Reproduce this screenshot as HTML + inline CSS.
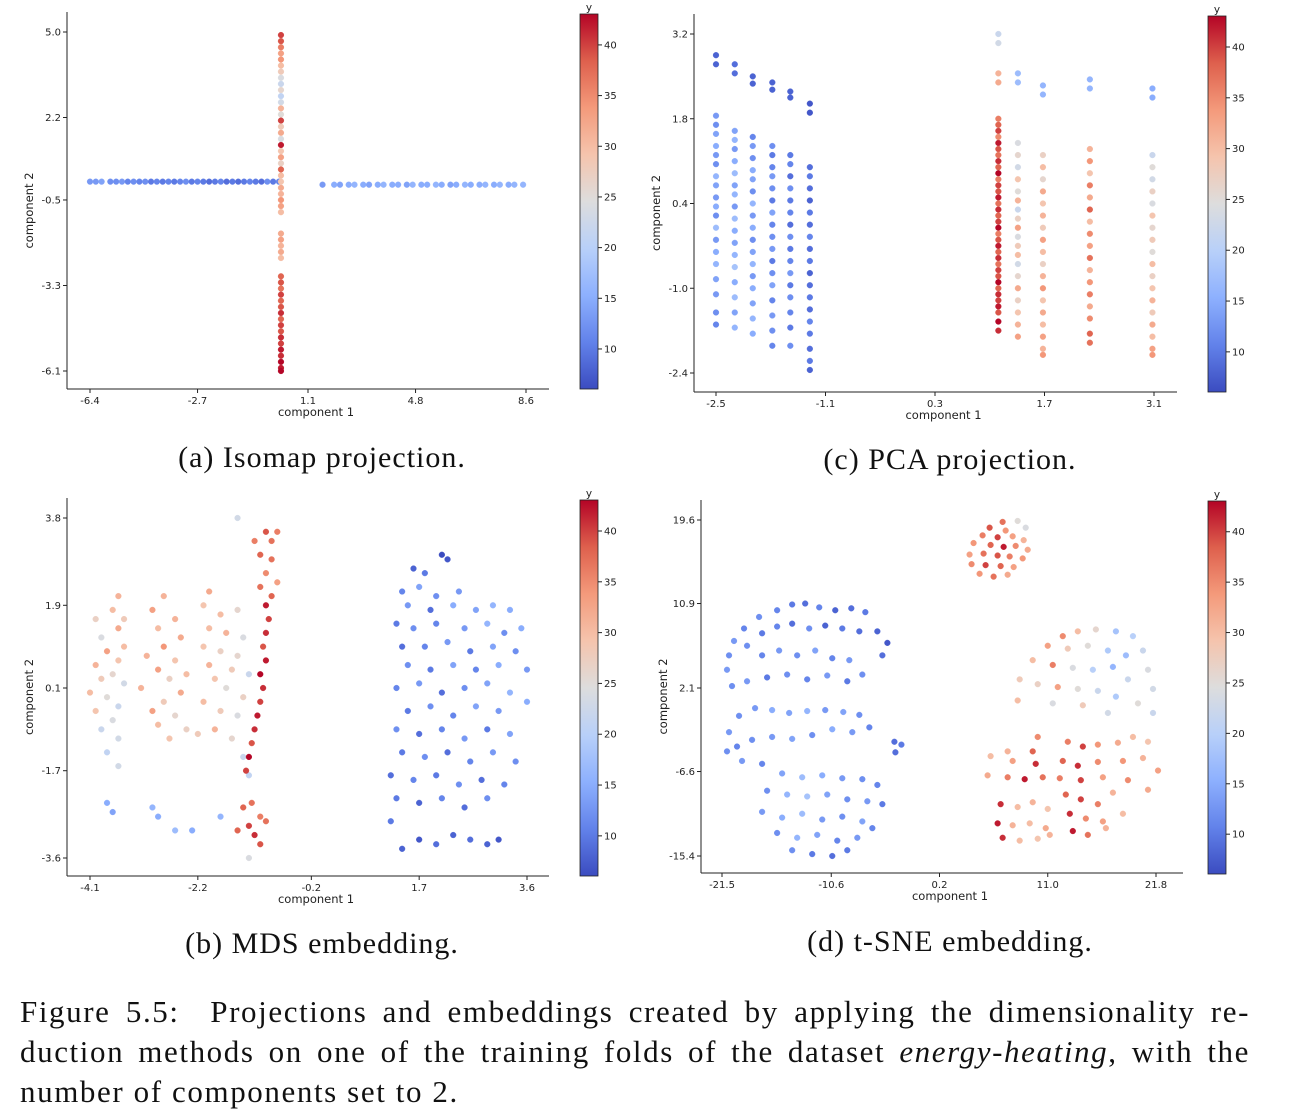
<!DOCTYPE html>
<html><head><meta charset="utf-8">
<style>
body{margin:0;background:#fff;width:1290px;height:1120px;overflow:hidden;position:relative;font-family:"DejaVu Sans","Liberation Sans",sans-serif;}
svg{position:absolute;left:0;top:0}
.cap{position:absolute;font-family:"Liberation Serif",serif;font-size:30px;letter-spacing:1px;color:#111;white-space:nowrap;transform:translate(-50%,-50%)}
.fl{position:absolute;left:20px;width:1230px;font-family:"Liberation Serif",serif;font-size:31px;letter-spacing:1.6px;line-height:40px;color:#111;white-space:nowrap}
.just{text-align:justify;text-align-last:justify}
</style></head><body>
<svg id="fig" width="1290" height="1120"></svg>
<div class="cap" style="left:322px;top:458px">(a) Isomap projection.</div>
<div class="cap" style="left:950px;top:460px">(c) PCA projection.</div>
<div class="cap" style="left:322px;top:944px">(b) MDS embedding.</div>
<div class="cap" style="left:950px;top:942px">(d) t-SNE embedding.</div>
<div>
<div class="fl just" style="top:992px">Figure 5.5: &nbsp;Projections and embeddings created by applying the dimensionality re-</div>
<div class="fl just" style="top:1032px">duction methods on one of the training folds of the dataset <i>energy-heating</i>, with the</div>
<div class="fl" style="top:1072px">number of components set to 2.</div>
</div>
<script>
// ---------- Panel (a) Isomap data ----------
const aLeftX=[-6.4,-6.2,-6.0,-5.7,-5.5,-5.3,-5.1,-4.9,-4.7,-4.5,-4.3,-4.1,-3.9,-3.7,-3.5,-3.3,-3.1,-2.9,-2.7,-2.5,-2.3,-2.1,-1.9,-1.7,-1.5,-1.3,-1.1,-0.9,-0.7,-0.5,-0.3,-0.1,0.1];
const aLeftV=[13,13,14,12,12,13,11,12,11,12,10,11,10,11,10,11,12,10,11,10,9,10,11,9,10,9,10,11,10,9,12,10,11];
const aLeftY=0.1;
const aRightX=[1.6,2.0,2.2,2.5,2.7,3.0,3.2,3.5,3.7,4.0,4.2,4.5,4.7,5.0,5.2,5.5,5.7,6.0,6.2,6.5,6.7,7.0,7.2,7.5,7.7,8.0,8.2,8.5];
const aRightV=[13,15,14,15,16,15,14,15,16,15,15,14,16,15,15,16,15,14,15,16,15,15,16,15,16,15,16,16];
const aRightY=0.0;
const aVertY=[4.9,4.7,4.5,4.3,4.1,3.9,3.7,3.5,3.3,3.1,2.9,2.7,2.5,2.3,2.1,1.9,1.7,1.5,1.3,1.1,0.9,0.7,0.5,0.3,0.1,-0.1,-0.3,-0.5,-0.7,-0.9,-1.6,-1.8,-2.0,-2.2,-2.4,-3.0,-3.2,-3.4,-3.6,-3.8,-4.0,-4.2,-4.4,-4.6,-4.8,-5.0,-5.2,-5.4,-5.6,-5.8,-6.0,-6.1];
const aVertV=[40,39,36,33,34,30,28,24,22,26,21,23,31,25,40,28,32,24,42,29,33,27,38,30,29,32,31,34,33,30,32,33,31,32,30,38,39,37,40,38,39,41,38,40,39,41,40,42,41,43,42,43];
const aVertX=0.17;
const aXTicks=[-6.4,-2.7,1.1,4.8,8.6], aYTicks=[5.0,2.2,-0.5,-3.3,-6.1];

// ---------- Panel (c) PCA data ----------
const pcaColX=[-2.5,-2.26,-2.03,-1.78,-1.55,-1.30,1.11,1.36,1.68,2.28,3.08];
const pcaColY=[
[2.85,2.7,1.85,1.7,1.55,1.35,1.2,1.05,0.85,0.7,0.5,0.35,0.2,0.0,-0.2,-0.4,-0.6,-0.85,-1.1,-1.4,-1.6],
[2.7,2.55,1.6,1.45,1.3,1.1,0.9,0.7,0.55,0.35,0.15,-0.05,-0.25,-0.45,-0.65,-0.9,-1.15,-1.4,-1.65],
[2.5,2.38,1.5,1.35,1.15,0.95,0.8,0.6,0.4,0.2,0.0,-0.2,-0.4,-0.6,-0.8,-1.0,-1.25,-1.5,-1.75],
[2.4,2.28,1.35,1.2,1.0,0.85,0.65,0.45,0.25,0.05,-0.15,-0.35,-0.55,-0.75,-0.95,-1.2,-1.45,-1.7,-1.95],
[2.25,2.15,1.2,1.05,0.85,0.65,0.45,0.25,0.05,-0.15,-0.35,-0.55,-0.75,-0.95,-1.15,-1.4,-1.65,-1.95],
[2.05,1.9,1.0,0.85,0.65,0.45,0.25,0.05,-0.15,-0.35,-0.55,-0.75,-0.95,-1.15,-1.35,-1.55,-1.75,-2.0,-2.2,-2.35],
[3.2,3.05,2.55,2.4,1.8,1.7,1.6,1.5,1.4,1.3,1.2,1.1,1.0,0.9,0.8,0.7,0.6,0.5,0.4,0.3,0.2,0.1,0.0,-0.1,-0.2,-0.3,-0.4,-0.5,-0.6,-0.7,-0.8,-0.9,-1.0,-1.1,-1.2,-1.3,-1.4,-1.55,-1.7],
[2.55,2.4,1.4,1.2,1.0,0.8,0.6,0.45,0.3,0.15,0.0,-0.15,-0.3,-0.45,-0.6,-0.8,-1.0,-1.2,-1.4,-1.6,-1.8],
[2.35,2.2,1.2,1.0,0.8,0.6,0.4,0.2,0.0,-0.2,-0.4,-0.6,-0.8,-1.0,-1.2,-1.4,-1.6,-1.8,-2.0,-2.1],
[2.45,2.3,1.3,1.1,0.9,0.7,0.5,0.3,0.1,-0.1,-0.3,-0.5,-0.7,-0.9,-1.1,-1.3,-1.5,-1.75,-1.9],
[2.3,2.15,1.2,1.0,0.8,0.6,0.4,0.2,0.0,-0.2,-0.4,-0.6,-0.8,-1.0,-1.2,-1.4,-1.6,-1.8,-2.0,-2.1]];
const pcaColV=[
[8,8,13,12,14,15,13,12,16,14,13,15,12,17,13,15,16,14,13,12,11],
[9,9,14,16,13,15,17,14,16,13,17,15,14,16,18,15,17,14,16],
[8,8,11,13,12,15,14,12,16,13,15,12,14,16,13,15,14,16,15],
[8,8,12,10,11,13,12,10,14,11,12,13,10,12,14,11,13,12,11],
[8,8,10,11,9,12,10,11,9,12,10,11,13,10,12,11,10,12],
[7,7,9,10,9,8,10,9,11,9,10,8,9,10,9,11,10,9,10,8],
[22,23,31,32,36,38,40,35,42,39,37,41,38,43,36,40,39,42,37,41,38,40,43,36,39,42,38,41,37,40,39,43,38,41,40,42,39,43,41],
[17,17,24,26,23,29,25,31,22,27,33,24,28,30,23,26,32,27,29,31,33],
[16,16,27,30,26,32,29,31,28,33,30,27,31,34,29,32,30,33,31,34],
[16,16,31,34,29,36,32,38,30,35,33,37,31,34,36,32,35,38,37],
[15,15,22,25,23,27,24,29,26,28,25,30,27,29,31,28,32,30,33,34]];
const cXTicks=[-2.5,-1.1,0.3,1.7,3.1], cYTicks=[3.2,1.8,0.4,-1.0,-2.4];

// ---------- Panel (b) MDS data [x,y,value] ----------
const mdsPts=[[-3.6,2.1,31],[-3.7,1.8,30],[-3.5,1.6,28],[-4.0,1.6,27],[-3.6,1.4,32],[-3.9,1.2,24],[-3.5,1.0,30],[-3.8,0.9,33],[-3.6,0.7,29],[-4.0,0.6,31],[-3.7,0.4,26],[-3.9,0.3,28],[-3.5,0.2,23],[-4.1,0.0,30],[-3.8,-0.1,25],[-3.6,-0.3,22],[-4.0,-0.4,29],[-3.7,-0.6,24],[-3.9,-0.8,22],[-3.6,-1.0,23],[-3.8,-1.3,21],[-3.6,-1.6,23],[-3.8,-2.4,15],[-3.7,-2.6,14],
[-2.8,2.1,31],[-3.0,1.8,33],[-2.6,1.6,31],[-2.9,1.4,30],[-2.5,1.2,32],[-2.8,1.0,34],[-3.1,0.8,31],[-2.6,0.7,29],[-2.9,0.5,33],[-2.4,0.4,30],[-2.7,0.3,27],[-3.2,0.1,31],[-2.5,0.0,32],[-2.8,-0.2,28],[-3.0,-0.4,33],[-2.6,-0.5,26],[-2.9,-0.7,30],[-2.4,-0.8,27],[-2.7,-1.0,29],[-2.2,-0.9,28],[-3.0,-2.5,16],[-2.9,-2.7,15],[-2.6,-3.0,17],
[-2.0,2.2,32],[-2.1,1.9,29],[-1.8,1.7,30],[-1.5,1.8,26],[-2.0,1.4,30],[-1.7,1.3,31],[-1.4,1.2,24],[-2.1,1.0,29],[-1.8,0.9,27],[-1.5,0.8,26],[-2.0,0.6,31],[-1.6,0.5,28],[-1.3,0.4,22],[-1.9,0.3,29],[-1.7,0.1,25],[-1.4,-0.1,27],[-2.1,-0.2,30],[-1.8,-0.4,28],[-1.5,-0.5,24],[-1.9,-0.8,31],[-1.6,-1.0,26],[-1.4,-1.4,22],[-1.3,-1.8,21],[-2.3,-3.0,15],[-1.8,-2.7,16],[-1.5,3.8,23],
[-1.2,3.3,36],[-1.0,3.5,39],[-0.9,3.3,37],[-0.8,3.5,36],[-1.1,3.0,38],[-0.9,2.9,37],[-1.0,2.6,35],[-0.8,2.4,33],[-1.1,2.3,37],[-0.9,2.1,38],[-1.0,1.9,42],[-0.95,1.6,40],[-1.0,1.3,41],[-1.05,1.0,39],[-1.0,0.7,42],[-1.1,0.4,43],[-1.05,0.1,41],[-1.1,-0.2,40],[-1.15,-0.5,42],[-1.2,-0.8,41],[-1.25,-1.1,39],[-1.3,-1.4,43],[-1.35,-1.7,40],[-1.25,-2.4,37],[-1.4,-2.5,38],[-1.1,-2.7,36],[-1.3,-2.9,40],[-1.0,-2.8,37],[-1.5,-3.0,38],[-1.2,-3.1,41],[-1.1,-3.3,39],[-1.3,-3.6,24],
[1.6,2.7,8],[1.8,2.6,10],[2.1,3.0,6],[2.2,2.9,7],[1.4,2.2,11],[1.7,2.3,14],[2.0,2.1,12],[2.4,2.2,13],[1.5,1.9,13],[1.9,1.8,9],[2.3,1.9,15],[2.7,1.8,14],[3.0,1.9,16],[3.3,1.8,15],[1.3,1.5,10],[1.6,1.4,12],[2.0,1.5,11],[2.5,1.4,13],[2.9,1.5,16],[3.2,1.3,12],[3.5,1.4,15],[1.4,1.0,9],[1.8,1.0,11],[2.2,1.1,13],[2.6,0.9,10],[3.0,1.0,14],[3.4,0.9,12],[1.5,0.6,12],[1.9,0.5,10],[2.3,0.6,14],[2.7,0.5,11],[3.1,0.6,15],[3.6,0.5,13],[1.3,0.1,11],[1.7,0.2,13],[2.1,0.0,9],[2.5,0.1,12],[2.9,0.2,14],[3.3,0.0,16],[1.5,-0.4,10],[1.9,-0.3,12],[2.3,-0.5,11],[2.7,-0.3,14],[3.1,-0.4,13],[3.6,-0.2,15],[1.3,-0.8,12],[1.7,-0.9,9],[2.1,-0.8,11],[2.5,-1.0,13],[2.9,-0.8,10],[3.3,-0.9,14],[1.4,-1.3,10],[1.8,-1.4,12],[2.2,-1.3,9],[2.6,-1.5,11],[3.0,-1.3,13],[3.4,-1.5,12],[1.2,-1.8,9],[1.6,-1.9,11],[2.0,-1.8,10],[2.4,-2.0,12],[2.8,-1.9,9],[3.2,-2.0,11],[1.3,-2.3,10],[1.7,-2.4,8],[2.1,-2.3,11],[2.5,-2.5,9],[2.9,-2.3,12],[1.2,-2.8,10],[1.4,-3.4,8],[1.7,-3.2,7],[2.0,-3.3,9],[2.3,-3.1,8],[2.6,-3.2,9],[2.9,-3.3,8],[3.1,-3.2,7]];
const bXTicks=[-4.1,-2.2,-0.2,1.7,3.6], bYTicks=[3.8,1.9,0.1,-1.7,-3.6];

// ---------- Panel (d) t-SNE data [x,y,value] ----------
const tsnePts=[[6.5,19.4,37],[8.0,19.5,25],[8.8,18.8,24],[5.2,18.8,39],[6.8,18.5,34],[4.5,18.0,36],[6.0,17.8,40],[7.5,17.9,33],[8.6,17.5,31],[3.6,17.2,34],[5.3,17.0,38],[6.6,16.8,42],[7.8,16.9,35],[9.0,16.5,32],[3.2,16.0,33],[4.6,16.1,37],[6.0,15.9,39],[7.2,15.8,36],[8.5,15.6,34],[3.4,15.0,35],[4.8,14.9,40],[6.3,14.8,38],[7.6,14.7,33],[4.2,14.0,34],[5.6,13.7,37],[7.0,13.9,32],
[-14.5,10.8,10],[-13.2,10.9,9],[-11.8,10.5,11],[-10.2,10.2,8],[-8.6,10.4,9],[-7.2,10.0,10],[-16.0,10.2,11],[-17.8,9.5,12],[-19.3,8.3,11],[-20.3,7.0,13],[-20.8,5.5,12],[-21.0,4.0,13],[-19.0,6.5,12],[-17.5,7.8,10],[-16.0,8.5,11],[-14.5,8.8,9],[-12.8,8.3,12],[-11.2,8.6,8],[-9.5,8.3,10],[-7.8,8.0,9],[-6.0,8.0,8],[-5.0,6.8,7],[-5.5,5.5,9],[-17.5,5.5,11],[-15.8,6.0,13],[-14.0,5.5,12],[-12.2,6.0,14],[-10.5,5.2,11],[-8.8,5.0,13],[-7.5,3.5,12],[-9.0,2.8,10],[-11.0,3.4,13],[-13.0,3.0,11],[-15.0,3.5,12],[-17.0,3.2,10],[-19.0,2.8,13],[-20.5,2.3,12],
[-20.8,-2.5,13],[-19.8,-0.8,12],[-18.2,0.0,13],[-16.5,-0.2,15],[-14.8,-0.5,14],[-13.0,-0.3,16],[-11.2,-0.2,13],[-9.4,-0.4,14],[-7.8,-0.7,12],[-6.8,-2.0,11],[-8.5,-2.5,13],[-10.5,-2.2,15],[-12.5,-2.8,12],[-14.5,-3.2,14],[-16.5,-3.0,13],[-18.5,-3.3,12],[-20.0,-4.0,11],[-21.0,-4.5,12],[-19.5,-5.5,13],[-17.5,-5.8,11],[-4.3,-3.5,9],[-3.6,-3.8,10],[-4.2,-4.6,9],
[-15.5,-6.8,14],[-13.5,-7.2,17],[-11.5,-7.0,15],[-9.5,-7.3,13],[-7.5,-7.4,12],[-6.0,-8.0,11],[-17.0,-8.6,12],[-15.0,-9.0,16],[-13.0,-9.2,18],[-11.0,-9.0,14],[-9.0,-9.5,12],[-7.0,-9.7,13],[-5.5,-10.0,10],[-17.5,-10.8,13],[-15.5,-11.4,15],[-13.5,-11.0,17],[-11.5,-11.6,13],[-9.5,-11.3,12],[-7.5,-11.8,14],[-6.5,-12.5,11],[-16.0,-13.0,12],[-14.0,-13.5,16],[-12.0,-13.2,14],[-10.0,-13.8,11],[-8.0,-13.5,13],[-12.5,-15.2,10],[-10.5,-15.4,9],[-9.0,-14.8,10],[-14.5,-14.8,12],
[12.5,7.5,35],[14.0,8.0,30],[15.8,8.2,26],[17.8,8.0,18],[19.5,7.5,20],[20.5,6.0,22],[11.0,6.5,33],[13.0,6.2,28],[15.0,6.5,25],[17.0,6.0,19],[18.8,5.5,17],[21.0,4.0,24],[9.5,5.0,30],[11.5,4.5,36],[13.5,4.2,24],[15.5,4.0,20],[17.5,4.3,16],[19.0,3.0,22],[21.5,2.0,23],[8.2,3.0,28],[10.0,2.5,27],[12.0,2.2,33],[14.0,2.0,25],[16.0,1.8,22],[17.8,1.2,19],[20.0,0.5,25],[21.5,-0.5,22],[8.0,0.8,30],[11.5,0.5,24],[14.5,0.3,28],[17.0,-0.5,23],
[10.0,-3.0,35],[9.5,-4.5,38],[7.0,-4.5,31],[5.3,-5.0,30],[7.5,-5.5,33],[9.8,-5.8,41],[5.0,-7.0,32],[7.0,-7.2,36],[8.7,-7.4,42],[10.5,-7.2,37],[13.0,-3.5,36],[14.5,-4.0,40],[16.0,-3.8,34],[12.5,-5.5,38],[14.0,-6.0,41],[16.0,-5.6,35],[12.2,-7.3,36],[14.3,-7.5,40],[16.5,-7.2,33],[18.0,-3.6,32],[19.5,-3.0,30],[21.0,-3.5,29],[18.5,-5.5,34],[20.5,-5.2,31],[22.0,-6.5,33],[19.0,-7.5,35],[21.0,-8.5,32],[17.5,-8.8,31],
[6.3,-10.0,41],[8.0,-10.3,30],[9.5,-9.8,31],[11.0,-10.5,29],[6.0,-12.0,42],[7.5,-12.2,31],[9.2,-12.0,30],[10.8,-12.5,32],[6.5,-13.5,41],[8.2,-13.8,30],[10.0,-13.6,29],[11.2,-13.2,31],[12.8,-9.0,38],[14.3,-9.5,40],[16.0,-10.0,36],[13.2,-11.0,41],[14.8,-11.5,35],[16.5,-11.8,33],[13.5,-12.8,42],[15.0,-13.2,37],[16.8,-12.5,31],[18.5,-11.0,30]];
const dXTicks=[-21.5,-10.6,0.2,11.0,21.8], dYTicks=[19.6,10.9,2.1,-6.6,-15.4];
const dXLabels=["-21.5","-10.6","0.2","11.0","21.8"];
const cbTicks=[10,15,20,25,30,35,40];
const vMin=6.05, vMax=43.05;

const NS="http://www.w3.org/2000/svg";
const svg=document.getElementById('fig');
function mk(tag,attrs,parent){const e=document.createElementNS(NS,tag);for(const k in attrs)e.setAttribute(k,attrs[k]);(parent||svg).appendChild(e);return e;}
const stops=[[59,76,192],[98,130,234],[141,176,254],[184,208,249],[221,221,221],[245,196,173],[244,154,123],[222,96,77],[180,4,38]];
function cmap(v){let t=(v-vMin)/(vMax-vMin);t=Math.max(0,Math.min(1,t));const f=t*8,i=Math.min(7,Math.floor(f)),r=f-i;const a=stops[i],b=stops[i+1];return `rgb(${a.map((c,k)=>Math.round(c+(b[k]-c)*r)).join(',')})`;}
function lin(d0,d1,p0,p1){return v=>p0+(v-d0)*(p1-p0)/(d1-d0);}
const defs=mk('defs',{});
const grad=mk('linearGradient',{id:'cw',x1:0,y1:1,x2:0,y2:0},defs);
stops.forEach((s,i)=>mk('stop',{offset:(i/8),'stop-color':`rgb(${s.join(',')})`},grad));

function panel(p){
  const g=mk('g',{});
  
  
  const sx=lin(p.xt[0],p.xt[p.xt.length-1],p.xp0,p.xp1), sy=lin(p.yt[0],p.yt[p.yt.length-1],p.yp0,p.yp1);
  mk('line',{x1:p.L,y1:p.T,x2:p.L,y2:p.B,stroke:'#222','stroke-width':1},g);
  mk('line',{x1:p.L,y1:p.B,x2:p.R,y2:p.B,stroke:'#222','stroke-width':1},g);
  p.xt.forEach((t,i)=>{const x=sx(t);mk('line',{x1:x,y1:p.B,x2:x,y2:p.B+4,stroke:'#222'},g);
    const tx=mk('text',{x:x,y:p.B+15,'font-size':10,'text-anchor':'middle',fill:'#222'},g);tx.textContent=(p.xl?p.xl[i]:t.toFixed(1));
    });
  p.yt.forEach(t=>{const y=sy(t);mk('line',{x1:p.L-4,y1:y,x2:p.L,y2:y,stroke:'#222'},g);
    const tx=mk('text',{x:p.L-6,y:y+3.5,'font-size':10,'text-anchor':'end',fill:'#222'},g);tx.textContent=t.toFixed(1);
    });
  const xl=mk('text',{x:(p.L+p.R)/2+8,y:p.B+27,'font-size':11.5,'text-anchor':'middle',fill:'#222'},g);xl.textContent='component 1';
  
  const yc=(p.T+p.B)/2+10;
  const yl=mk('text',{x:0,y:0,'font-size':11.5,'text-anchor':'middle',fill:'#222',transform:`translate(${p.L-34},${yc}) rotate(-90)`},g);yl.textContent='component 2';
  
  p.pts.forEach(q=>{const c=mk('circle',{cx:sx(q[0]),cy:sy(q[1]),r:2.9,fill:cmap(q[2]),stroke:cmap(q[2]),'stroke-width':0.4},g);
    });
  const cb=p.cb;
  const r=mk('rect',{x:cb.x,y:cb.t,width:18,height:cb.b-cb.t,fill:'url(#cw)',stroke:'#222','stroke-width':0.8},g);
  
  const cy=lin(vMin,vMax,cb.b,cb.t);
  cbTicks.forEach(t=>{const y=cy(t);mk('line',{x1:cb.x+18,y1:y,x2:cb.x+22,y2:y,stroke:'#222'},g);
    const tx=mk('text',{x:cb.x+24,y:y+3.5,'font-size':10,fill:'#222'},g);tx.textContent=t;
    });
  const yt=mk('text',{x:cb.x+9,y:cb.t-3,'font-size':10.5,'text-anchor':'middle',fill:'#222'},g);yt.textContent='y';
  
}

const aPts=[];
aLeftX.forEach((x,i)=>aPts.push([x,aLeftY,aLeftV[i]]));
aRightX.forEach((x,i)=>aPts.push([x,aRightY,aRightV[i]]));
aVertY.forEach((y,i)=>aPts.push([aVertX,y,aVertV[i]]));
const cPts=[];
pcaColX.forEach((x,j)=>pcaColY[j].forEach((y,i)=>cPts.push([x,y,pcaColV[j][i]])));

panel({name:'isomap-panel',pts:aPts,xt:aXTicks,yt:aYTicks,xp0:90,xp1:526,yp0:32,yp1:371,L:67,R:549,T:12,B:389,cb:{x:580,t:14,b:389}});
panel({name:'pca-panel',pts:cPts,xt:cXTicks,yt:cYTicks,xp0:716,xp1:1154,yp0:34,yp1:373,L:694,R:1177,T:14,B:392,cb:{x:1208,t:16,b:392}});
panel({name:'mds-panel',pts:mdsPts,xt:bXTicks,yt:bYTicks,xp0:90,xp1:527,yp0:518,yp1:858,L:67,R:549,T:498,B:876,cb:{x:580,t:500,b:876}});
panel({name:'tsne-panel',pts:tsnePts,xt:dXTicks,xl:dXLabels,yt:dYTicks,xp0:722,xp1:1156,yp0:520,yp1:856,L:701,R:1183,T:500,B:873,cb:{x:1208,t:501,b:874}});
</script>
</body></html>
